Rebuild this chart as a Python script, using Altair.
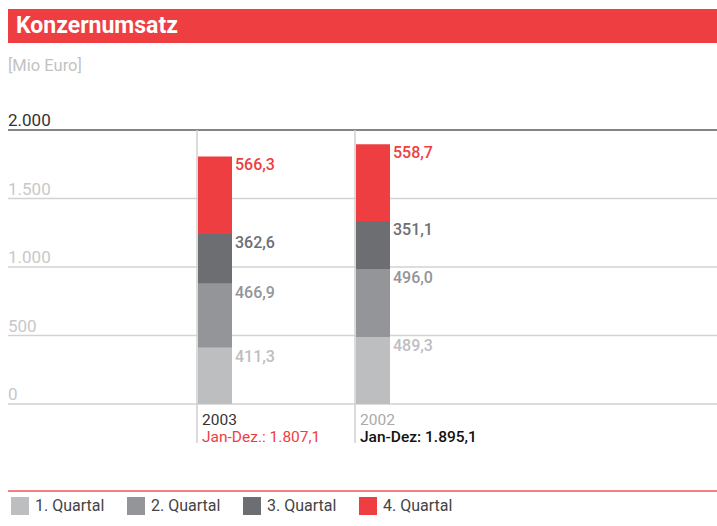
import altair as alt
import pandas as pd

# ---- data ----
years = ["2003", "2002"]
quarters = ["1. Quartal", "2. Quartal", "3. Quartal", "4. Quartal"]
values_2003 = [411.3, 466.9, 362.6, 566.3]
values_2002 = [489.3, 496.0, 351.1, 558.7]
quarter_colors = ["#bdbec0", "#939598", "#6d6e71", "#ef3e42"]
y_ticks = [0, 500, 1000, 1500, 2000]
tick_labels = ["0", "500", "1.000", "1.500", "2.000"]
total_prefix = ["Jan-Dez.:", "Jan-Dez:"]
title = "Konzernumsatz"
unit = "[Mio Euro]"

FONT = "Roboto"
RED = "#ef3e42"


def de(v):
    s = f"{v:,.1f}"
    return s.replace(",", "X").replace(".", ",").replace("X", ".")


rows = []
for y, vals in zip(years, [values_2003, values_2002]):
    base = 0.0
    for i, (q, v) in enumerate(zip(quarters, vals)):
        rows.append({"year": y, "quarter": q, "q": i, "value": v, "label": de(v),
                     "v0": base, "v1": base + v})
        base += v
df = pd.DataFrame(rows)

tot = pd.DataFrame({
    "year": years,
    "total": [f"{p} {de(sum(v))}" for p, v in zip(total_prefix, [values_2003, values_2002])],
    "top": [max(y_ticks)] * len(years),
})
grid_df = pd.DataFrame({"tick": y_ticks, "label": tick_labels})
one = pd.DataFrame({"t": [title], "u": [unit]})

yscale = alt.Scale(domain=[0, 2000], range=[404, 130])
xscale = alt.Scale(domain=years, range=[197, 391], paddingInner=0.7722, paddingOuter=0)

title_bar = alt.Chart(one).mark_rect(color=RED).encode(
    x=alt.value(8), x2=alt.value(717), y=alt.value(9), y2=alt.value(43))
title_text = alt.Chart(one).mark_text(
    align="left", baseline="alphabetic", font=FONT, fontSize=23, fontWeight="bold", color="white"
).encode(x=alt.value(16), y=alt.value(33), text="t:N")
unit_text = alt.Chart(one).mark_text(
    align="left", baseline="alphabetic", font=FONT, fontSize=16.5, color="#c3c3c3"
).encode(x=alt.value(8), y=alt.value(71), text="u:N")

grid_light = alt.Chart(grid_df).transform_filter(alt.datum.tick < 2000).mark_rule(
    color="#d2d2d2", strokeWidth=1.5
).encode(y=alt.Y("tick:Q", scale=yscale, axis=None), x=alt.value(8), x2=alt.value(717))
grid_top = alt.Chart(grid_df).transform_filter(alt.datum.tick == 2000).mark_rule(
    color="#858585", strokeWidth=2
).encode(y=alt.Y("tick:Q", scale=yscale, axis=None), x=alt.value(8), x2=alt.value(717))

lab_light = alt.Chart(grid_df).transform_filter(alt.datum.tick < 2000).mark_text(
    align="left", baseline="alphabetic", dy=-4, font=FONT, fontSize=17, color="#c8c8c8"
).encode(y=alt.Y("tick:Q", scale=yscale, axis=None), x=alt.value(8), text="label:N")
lab_top = alt.Chart(grid_df).transform_filter(alt.datum.tick == 2000).mark_text(
    align="left", baseline="alphabetic", dy=-4, font=FONT, fontSize=17, color="#333333"
).encode(y=alt.Y("tick:Q", scale=yscale, axis=None), x=alt.value(8), text="label:N")

vlines = alt.Chart(tot).mark_rule(color="#cfcfcf", strokeWidth=1.5).encode(
    x=alt.X("year:N", scale=xscale, bandPosition=0, axis=None),
    y=alt.Y("top:Q", scale=yscale, axis=None),
    y2=alt.value(443),
)

color = alt.Color(
    "quarter:N",
    scale=alt.Scale(domain=quarters, range=quarter_colors),
    legend=alt.Legend(
        orient="none", legendX=11, legendY=497, direction="horizontal", title=None,
        symbolType="square", symbolSize=324, symbolStrokeWidth=0, symbolOpacity=1,
        labelFont=FONT, labelFontSize=16, labelColor="#444444", labelOffset=6,
        columnPadding=22, padding=0,
    ),
)

bars = alt.Chart(df).mark_bar(size=34).encode(
    x=alt.X("year:N", scale=xscale, axis=None),
    y=alt.Y("v0:Q", scale=yscale, axis=None),
    y2="v1:Q",
    color=color,
)
labels = alt.Chart(df).mark_text(
    align="left", baseline="top", dx=20, dy=1, font=FONT, fontSize=16, fontWeight=500
).encode(
    x=alt.X("year:N", scale=xscale, axis=None),
    y=alt.Y("v1:Q", scale=yscale, axis=None),
    text="label:N",
    color=color,
)

year_2003 = alt.Chart(tot).transform_filter(alt.datum.year == "2003").mark_text(
    align="left", baseline="middle", dx=-13, font=FONT, fontSize=15.5, color="#333333"
).encode(x=alt.X("year:N", scale=xscale, axis=None), y=alt.value(420), text="year:N")
year_2002 = alt.Chart(tot).transform_filter(alt.datum.year == "2002").mark_text(
    align="left", baseline="middle", dx=-13, font=FONT, fontSize=15.5, color="#aaaaaa"
).encode(x=alt.X("year:N", scale=xscale, axis=None), y=alt.value(420), text="year:N")
total_2003 = alt.Chart(tot).transform_filter(alt.datum.year == "2003").mark_text(
    align="left", baseline="middle", dx=-13, font=FONT, fontSize=15.5, color=RED
).encode(x=alt.X("year:N", scale=xscale, axis=None), y=alt.value(437), text="total:N")
total_2002 = alt.Chart(tot).transform_filter(alt.datum.year == "2002").mark_text(
    align="left", baseline="middle", dx=-13, font=FONT, fontSize=15.5, fontWeight=500, color="#111111"
).encode(x=alt.X("year:N", scale=xscale, axis=None), y=alt.value(437), text="total:N")

legend_line = alt.Chart(one).mark_rule(color="#f37f82", strokeWidth=2).encode(
    x=alt.value(8), x2=alt.value(717), y=alt.value(491))

chart = alt.layer(
    title_bar, title_text, unit_text, grid_light, grid_top, lab_light, lab_top, vlines,
    bars, labels, year_2003, year_2002, total_2003, total_2002, legend_line,
).properties(
    width=717, height=526, autosize="none", padding=0, background="white"
).configure_view(stroke=None)

chart.save("out.html", embed_options={"renderer": "svg", "actions": False})
